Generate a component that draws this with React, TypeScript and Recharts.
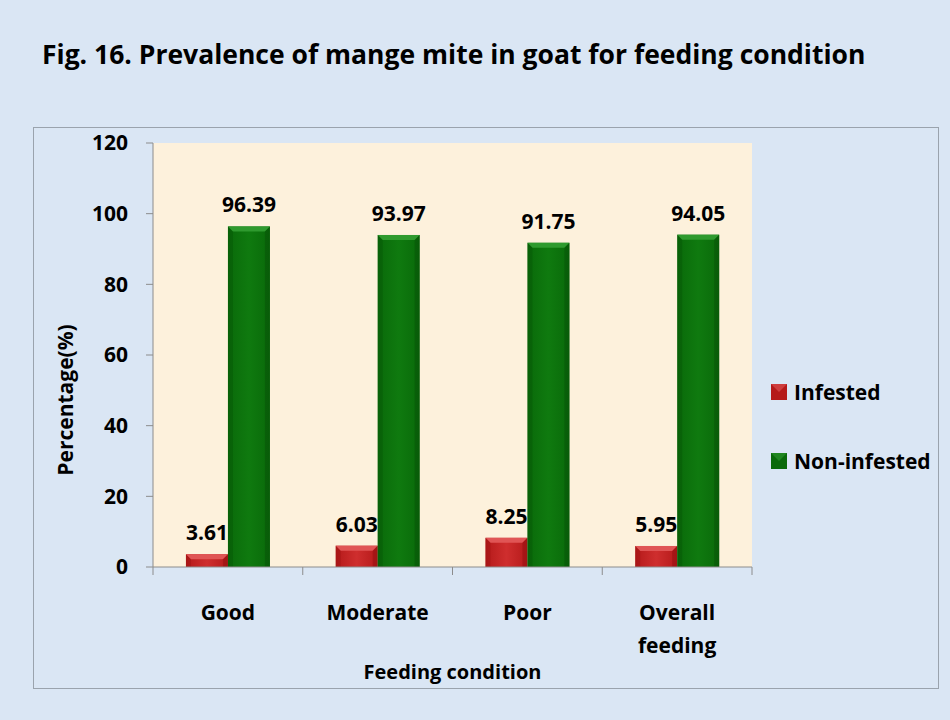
import React from "react";
import { Bar, BarChart, CartesianGrid, LabelList, Legend, XAxis, YAxis } from "recharts";

const categories = ["Good", "Moderate", "Poor", "Overall feeding"];
const infested = [3.61, 6.03, 8.25, 5.95];
const nonInfested = [96.39, 93.97, 91.75, 94.05];
const yTicks = [0, 20, 40, 60, 80, 100, 120];

const data = categories.map((name, i) => ({ name, infested: infested[i], nonInfested: nonInfested[i] }));

const FONT = "'Open Sans', 'Noto Sans', sans-serif";
const BG = "#dae6f4";

const palette: Record<string, { base: string; light: string; dark: string; bevel: string }> = {
  red: { base: "#b51a1a", light: "#cf2e2e", dark: "#8e0e0e", bevel: "#e05555" },
  green: { base: "#0a6a0a", light: "#0f7a0f", dark: "#064d06", bevel: "#2f9a2f" },
};

function BevelBar(props: any) {
  const { x, y, width, height, tone } = props;
  if (!height || height <= 0) return null;
  const c = palette[tone];
  const b = Math.min(5, height / 2, width / 4);
  return (
    <g>
      <rect x={x} y={y} width={width} height={height} fill={`url(#grad-${tone})`} />
      <polygon points={`${x},${y} ${x + width},${y} ${x + width - b},${y + b} ${x + b},${y + b}`} fill={c.bevel} />
      <polygon points={`${x},${y} ${x + b},${y + b} ${x + b},${y + height} ${x},${y + height}`} fill={c.dark} opacity={0.3} />
      <polygon points={`${x + width},${y} ${x + width - b},${y + b} ${x + width - b},${y + height} ${x + width},${y + height}`} fill={c.dark} opacity={0.45} />
    </g>
  );
}

function CategoryTick(props: any) {
  const { x, y, payload, index } = props;
  const half = payload.offset || 0;
  const words = String(payload.value).split(" ");
  const isLast = index === categories.length - 1;
  return (
    <g>
      <line x1={x - half} y1={y} x2={x - half} y2={y + 8} stroke="#8c8c8c" />
      {isLast && <line x1={x + half} y1={y} x2={x + half} y2={y + 8} stroke="#8c8c8c" />}
      {words.map((w, i) => (
        <text key={w} x={x} y={y + 53 + i * 33} textAnchor="middle" fontFamily={FONT} fontWeight={700} fontSize={21} fill="#000">
          {w}
        </text>
      ))}
    </g>
  );
}

function LegendBox() {
  const items = [
    { label: "Infested", tone: "red" },
    { label: "Non-infested", tone: "green" },
  ];
  return (
    <div style={{ fontFamily: FONT }}>
      {items.map((it, i) => (
        <div key={it.label} style={{ display: "flex", alignItems: "center", height: 26, marginBottom: i === 0 ? 43 : 0 }}>
          <svg width={16} height={16} style={{ marginRight: 7 }}>
            <rect x={0} y={0} width={16} height={16} fill={palette[it.tone].base} />
            <polygon points="0,0 16,0 8,8" fill={palette[it.tone].bevel} opacity={0.6} />
          </svg>
          <span style={{ fontWeight: 700, fontSize: 21, color: "#000" }}>{it.label}</span>
        </div>
      ))}
    </div>
  );
}

export default function App() {
  return (
    <div style={{ position: "relative", width: 950, height: 720, background: BG, overflow: "hidden" }}>
      <style>{`body{margin:0}`}</style>
      <div
        style={{
          position: "absolute",
          left: 42,
          top: 38,
          fontFamily: FONT,
          fontWeight: 700,
          fontSize: 26.5,
          lineHeight: "32px",
          color: "#000",
          whiteSpace: "nowrap",
        }}
      >
        Fig. 16. Prevalence of mange mite in goat for feeding condition
      </div>
      <div style={{ position: "absolute", left: 33, top: 127, width: 906, height: 562, border: "1px solid #9aa3ad", boxSizing: "border-box" }} />
      <div style={{ position: "absolute", left: 33, top: 127 }}>
        <BarChart
          width={906}
          height={562}
          data={data}
          margin={{ top: 16, right: 187, bottom: 0, left: 0 }}
          barCategoryGap="22%"
          barGap={0}
        >
          <defs>
            {Object.keys(palette).map((k) => (
              <linearGradient key={k} id={`grad-${k}`} x1="0" y1="0" x2="1" y2="0">
                <stop offset="0%" stopColor={palette[k].base} />
                <stop offset="50%" stopColor={palette[k].light} />
                <stop offset="100%" stopColor={palette[k].base} />
              </linearGradient>
            ))}
          </defs>
          <CartesianGrid fill="#fdf1dc" horizontal={false} vertical={false} />
          <XAxis
            dataKey="name"
            height={122}
            axisLine={{ stroke: "#8c8c8c" }}
            tickLine={false}
            tickSize={0}
            tickMargin={0}
            interval={0}
            tick={<CategoryTick />}
            label={{
              content: (p: any) => {
                const vb = p.viewBox;
                return (
                  <text x={vb.x + vb.width / 2} y={vb.y + 112} textAnchor="middle" fontFamily={FONT} fontWeight={700} fontSize={20} fill="#000">
                    Feeding condition
                  </text>
                );
              },
            }}
          />
          <YAxis
            width={120}
            domain={[0, 120]}
            ticks={yTicks}
            interval={0}
            axisLine={{ stroke: "#8c8c8c" }}
            tickLine={{ stroke: "#8c8c8c" }}
            tickSize={7}
            tickMargin={18}
            tick={{ fontFamily: FONT, fontWeight: 700, fontSize: 21, fill: "#000" }}
            label={{
              content: (p: any) => {
                const vb = p.viewBox;
                const cx = 32;
                const cy = vb.y + vb.height / 2 + 45;
                return (
                  <text x={cx} y={cy} transform={`rotate(-90 ${cx} ${cy})`} textAnchor="middle" dominantBaseline="central" fontFamily={FONT} fontWeight={700} fontSize={21} fill="#000">
                    Percentage(%)
                  </text>
                );
              },
            }}
          />
          <YAxis yAxisId="frame" orientation="right" width={0} tick={false} tickLine={false} axisLine={{ stroke: "#b8b0a0" }} />
          <Legend
            layout="horizontal"
            verticalAlign="middle"
            align="center"
            wrapperStyle={{ position: "absolute", left: 738, top: 252, width: 185 }}
            content={() => <LegendBox />}
          />
          <Bar dataKey="infested" name="Infested" isAnimationActive={false} shape={<BevelBar tone="red" />}>
            <LabelList dataKey="infested" position="top" offset={14} style={{ fontFamily: FONT, fontWeight: 700, fontSize: 21, fill: "#000" }} />
          </Bar>
          <Bar dataKey="nonInfested" name="Non-infested" isAnimationActive={false} shape={<BevelBar tone="green" />}>
            <LabelList dataKey="nonInfested" position="top" offset={14} style={{ fontFamily: FONT, fontWeight: 700, fontSize: 21, fill: "#000" }} />
          </Bar>
        </BarChart>
      </div>
    </div>
  );
}
